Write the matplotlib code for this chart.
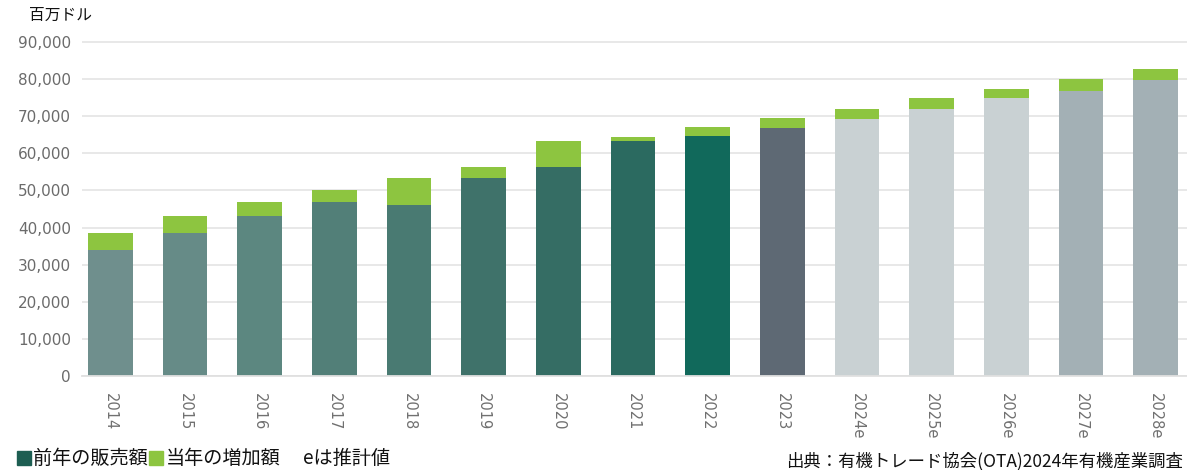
import matplotlib.pyplot as plt
from matplotlib.patches import Rectangle
import numpy as np

plt.rcParams['font.family'] = ['Noto Sans CJK JP', 'DejaVu Sans']

# 米国オーガニック販売額（百万ドル）
years = ['2014', '2015', '2016', '2017', '2018', '2019', '2020', '2021',
         '2022', '2023', '2024e', '2025e', '2026e', '2027e', '2028e']
prev_sales = [34000, 38500, 43200, 47000, 46100, 53300, 56400, 63200,
              64700, 66900, 69300, 71900, 74900, 76900, 79800]
increase = [4600, 4600, 3800, 3100, 7200, 3100, 6800, 1300,
            2300, 2700, 2600, 3000, 2500, 3100, 2900]

base_colors = ['#6f8f8d', '#668b87', '#5c8780', '#527f78', '#497a72',
               '#3f726a', '#356d64', '#2b6a60', '#11695b', '#5e6974',
               '#c9d1d3', '#c9d1d3', '#c9d1d3', '#a3b0b5', '#a3b0b5']
green = '#8dc540'
W, H = 1187, 470

fig = plt.figure(figsize=(W / 100, H / 100), dpi=100)
ax = fig.add_axes([0.0691, 0.2, 0.9309, 0.7145])

x = np.arange(len(years))
ax.bar(x, prev_sales, width=0.6, color=base_colors, zorder=2)
ax.bar(x, increase, width=0.6, bottom=prev_sales, color=green, zorder=2)

ax.set_ylim(0, 90500)
ax.set_xlim(-0.38, 14.42)
ax.set_yticks(range(0, 90001, 10000))
ax.set_yticklabels(['{:,}'.format(v) for v in range(0, 90001, 10000)],
                   family='DejaVu Sans', fontsize=11, color='#6b6b6b')
ax.set_xticks(x)
ax.set_xticklabels(years, rotation=270, family='DejaVu Sans',
                   fontsize=10.5, color='#707070')
ax.tick_params(axis='both', length=0)
ax.tick_params(axis='x', pad=12)
ax.tick_params(axis='y', pad=8)

ax.grid(axis='y', color='#e6e6e6', linewidth=1.3, zorder=0)
for side in ['top', 'right', 'left']:
    ax.spines[side].set_visible(False)
ax.spines['bottom'].set_color('#e0e0e0')
ax.spines['bottom'].set_linewidth(1.3)

fig.text(29 / W, 1 - 15 / H, '百万ドル', fontsize=11.3, color='#111111',
         va='center', ha='left')

# 凡例
ly = 1 - 458 / H
fig.add_artist(Rectangle((17 / W, 1 - 465 / H), 14 / W, 14 / H,
                         transform=fig.transFigure, color='#1d5e52'))
fig.text(33 / W, ly, '前年の販売額', fontsize=13.8, color='#111111', va='center')
fig.add_artist(Rectangle((149 / W, 1 - 465 / H), 14 / W, 14 / H,
                         transform=fig.transFigure, color=green))
fig.text(166 / W, ly, '当年の増加額', fontsize=13.8, color='#111111', va='center')
fig.text(303 / W, ly, 'eは推計値', fontsize=13.8, color='#111111', va='center')

# 出典
fig.text(1183 / W, 1 - 461 / H, '出典：有機トレード協会(OTA)2024年有機産業調査',
         fontsize=12.5, color='#111111', va='center', ha='right')

fig.savefig('out.png', dpi=100)
